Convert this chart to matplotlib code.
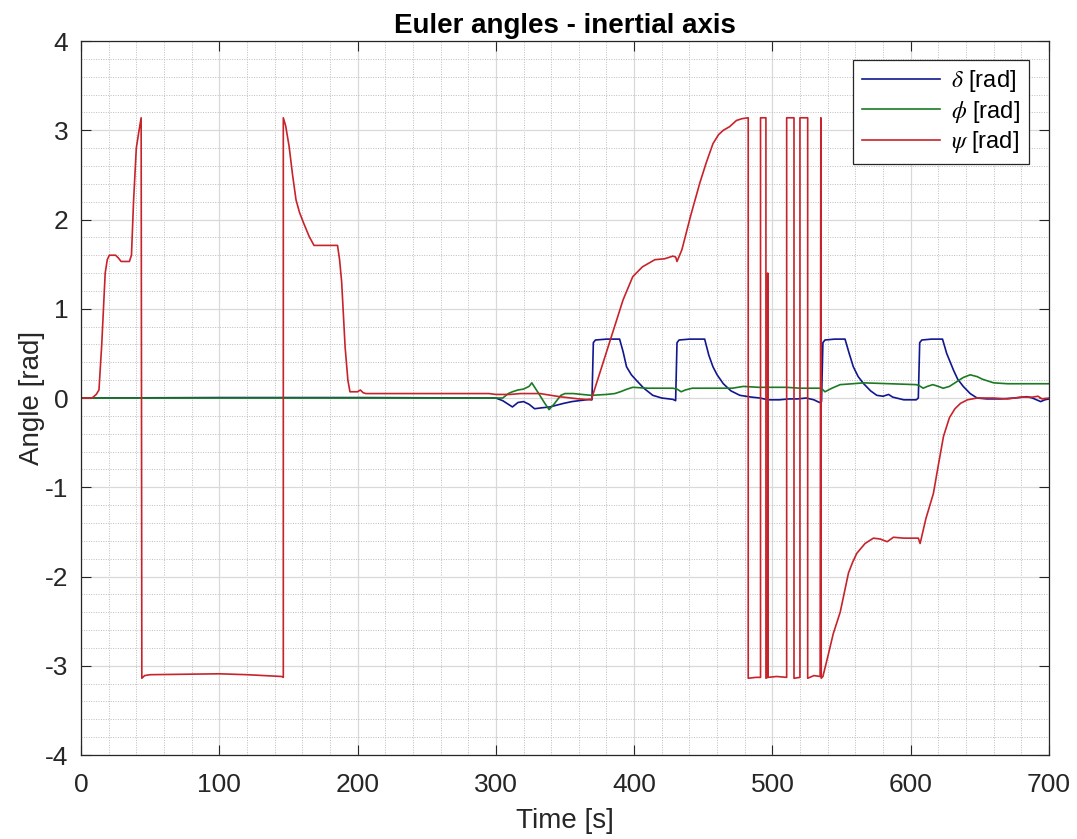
import matplotlib
matplotlib.use("Agg")
import matplotlib.pyplot as plt
from matplotlib.ticker import MultipleLocator

plt.rcParams['font.family'] = ['Liberation Sans', 'DejaVu Sans']
plt.rcParams['mathtext.fontset'] = 'stix'
plt.rcParams['axes.unicode_minus'] = False

# Time stamps [s] and angles [rad] for each Euler angle
t_delta = [0, 100, 200, 300, 305, 312, 316, 320, 324, 328, 333, 339, 344, 349, 355, 360,
           368, 369.5, 370.5, 372, 380, 389.5, 392, 394.5, 398, 401.5, 407, 413.5, 420,
           428, 430, 431, 432.5, 440, 451, 454, 457, 460, 464.5, 470, 476.5, 485, 491,
           497, 505, 512, 518, 524.5, 530, 534, 535.5, 536.5, 538, 545, 552.5, 555.5,
           558.5, 562, 566, 571, 575.5, 580, 584, 587, 595, 604, 605.5, 606.5, 608, 615,
           623, 626, 631, 634, 638, 643, 648, 655, 665, 675, 684, 688, 694, 697, 700]
delta = [0.0, 0.005, 0.005, 0.0, -0.03, -0.10, -0.05, -0.04, -0.07, -0.12, -0.11, -0.10,
         -0.08, -0.06, -0.04, -0.03, -0.015, -0.02, 0.62, 0.65, 0.66, 0.66, 0.52, 0.35,
         0.26, 0.20, 0.11, 0.03, 0.0, -0.015, -0.03, 0.62, 0.65, 0.66, 0.66, 0.48, 0.35,
         0.26, 0.16, 0.08, 0.03, 0.01, 0.0, -0.02, -0.02, -0.01, -0.01, 0.0, -0.02,
         -0.05, -0.04, 0.62, 0.65, 0.66, 0.66, 0.50, 0.35, 0.24, 0.16, 0.08, 0.03, 0.02,
         0.04, 0.01, -0.02, -0.02, 0.0, 0.62, 0.65, 0.66, 0.66, 0.50, 0.31, 0.21, 0.13,
         0.05, 0.0, -0.01, -0.01, 0.0, 0.015, 0.0, -0.04, -0.02, -0.01]

t_phi = [0, 300, 305, 309, 312, 316, 320, 324, 326, 331, 335, 338.5, 342, 347, 350, 356,
         369, 380, 386, 390, 395, 399, 410, 428, 431, 434, 437, 442, 462, 471, 479, 490,
         500, 510, 520, 534, 536, 538, 543, 549, 558, 566, 585, 604, 606, 609, 612, 616,
         620, 623.5, 628, 633, 638, 643, 648, 652, 660, 670, 680, 690, 700]
phi = [0.0, 0.0, 0.0, 0.05, 0.07, 0.09, 0.10, 0.13, 0.17, 0.05, -0.05, -0.13, -0.07, 0.03,
       0.05, 0.05, 0.03, 0.04, 0.05, 0.07, 0.10, 0.12, 0.11, 0.11, 0.10, 0.07, 0.09, 0.11,
       0.11, 0.11, 0.13, 0.12, 0.12, 0.12, 0.11, 0.11, 0.10, 0.07, 0.11, 0.15, 0.16, 0.17,
       0.16, 0.15, 0.14, 0.11, 0.13, 0.15, 0.13, 0.11, 0.13, 0.18, 0.23, 0.26, 0.24, 0.21,
       0.17, 0.16, 0.16, 0.16, 0.16]

t_psi = [0, 8, 11, 13, 15, 17.5, 19, 20.5, 25, 27, 29, 35, 36.5, 38, 40, 42, 43.5, 44,
         46, 50, 100, 120, 145, 146.3, 146.3, 148, 150.5, 153, 155.5, 158, 161, 165,
         168.5, 185.5, 187, 188.5, 191, 193, 194.5, 200, 202, 204, 206, 295, 300, 310,
         318, 332, 346, 360, 369, 392, 399, 406, 415, 422, 428, 430, 431, 434.5, 441,
         447.5, 452, 457, 461, 464.5, 469, 474, 478, 482.5, 482.5, 488, 491.4, 491.4,
         495.3, 495.3, 496.5, 496.6, 496.8, 503, 510.3, 510.3, 515.6, 515.6, 519.9, 519.9,
         525.5, 525.5, 530, 534.5, 535, 535.3, 536.5, 540, 544, 549, 555, 558, 561, 567,
         573, 578, 583, 587.5, 595, 605.5, 606.8, 611, 616.4, 620, 623.7, 628, 632, 636,
         641, 648, 660, 670, 680, 688, 692, 695, 700]
psi = [0.0, 0.0, 0.04, 0.09, 0.6, 1.4, 1.55, 1.60, 1.60, 1.57, 1.53, 1.53, 1.6, 2.2, 2.8,
       3.0, 3.14, -3.14, -3.11, -3.10, -3.09, -3.10, -3.12, -3.13, 3.14, 3.05, 2.82, 2.5,
       2.22, 2.08, 1.96, 1.81, 1.71, 1.71, 1.55, 1.3, 0.57, 0.2, 0.07, 0.07, 0.09, 0.06,
       0.05, 0.05, 0.04, 0.04, 0.05, 0.05, 0.015, -0.01, -0.02, 1.10, 1.36, 1.47, 1.55,
       1.56, 1.59, 1.58, 1.53, 1.66, 2.05, 2.41, 2.63, 2.85, 2.95, 3.00, 3.04, 3.11, 3.13,
       3.14, -3.14, -3.13, -3.13, 3.14, 3.14, -3.14, -3.13, 1.40, -3.13, -3.12, -3.13,
       3.14, 3.14, -3.14, -3.13, 3.14, 3.14, -3.14, -3.11, -3.12, 3.14, -3.14, -3.12,
       -2.90, -2.64, -2.40, -1.96, -1.84, -1.74, -1.63, -1.57, -1.58, -1.61, -1.56, -1.57,
       -1.57, -1.63, -1.35, -1.07, -0.75, -0.43, -0.22, -0.12, -0.06, -0.02, 0.0, 0.0,
       -0.01, 0.01, 0.01, 0.02, -0.01, 0.0]

labels = [r'$\delta$ [rad]', r'$\phi$ [rad]', r'$\psi$ [rad]']
colors = ['#10178f', '#1c7a22', '#c8232b']

fig = plt.figure(figsize=(10.77, 8.39), dpi=100)
ax = fig.add_axes([0.0752, 0.1001, 0.8988, 0.851])

ax.plot(t_delta, delta, color=colors[0], lw=1.2, label=labels[0])
ax.plot(t_phi, phi, color=colors[1], lw=1.2, label=labels[1])
ax.plot(t_psi, psi, color=colors[2], lw=1.2, label=labels[2])

ax.set_xlim(0, 700)
ax.set_ylim(-4, 4)
ax.xaxis.set_major_locator(MultipleLocator(100))
ax.xaxis.set_minor_locator(MultipleLocator(20))
ax.yaxis.set_major_locator(MultipleLocator(1))
ax.yaxis.set_minor_locator(MultipleLocator(0.2))

ax.grid(which='major', color='#d9d9d9', lw=0.9, ls='-')
ax.grid(which='minor', color='#bdbdbd', lw=0.7, ls=(0, (1, 1.5)))
ax.set_axisbelow(True)

ax.tick_params(which='major', direction='in', length=7, width=0.8,
               top=True, right=True, labelsize=19, colors='#262626', pad=9)
ax.tick_params(axis='x', which='major', pad=13)
ax.tick_params(which='minor', length=0, top=True, right=True)
for s in ax.spines.values():
    s.set_color('#262626')
    s.set_linewidth(0.9)

ax.set_xlabel('Time [s]', fontsize=20, color='#262626', labelpad=8)
ax.set_ylabel('Angle [rad]', fontsize=20, color='#262626', labelpad=0)
ax.set_title('Euler angles - inertial axis', fontsize=20, fontweight='bold', pad=6)

leg = ax.legend(loc='upper right', bbox_to_anchor=(0.979, 0.974), fontsize=17,
                fancybox=False, framealpha=1, edgecolor='#262626', borderaxespad=0,
                handlelength=3.3, borderpad=0.35, labelspacing=0.2, handletextpad=0.5)
leg.get_frame().set_linewidth(0.9)

fig.savefig('out.png', dpi=100)
